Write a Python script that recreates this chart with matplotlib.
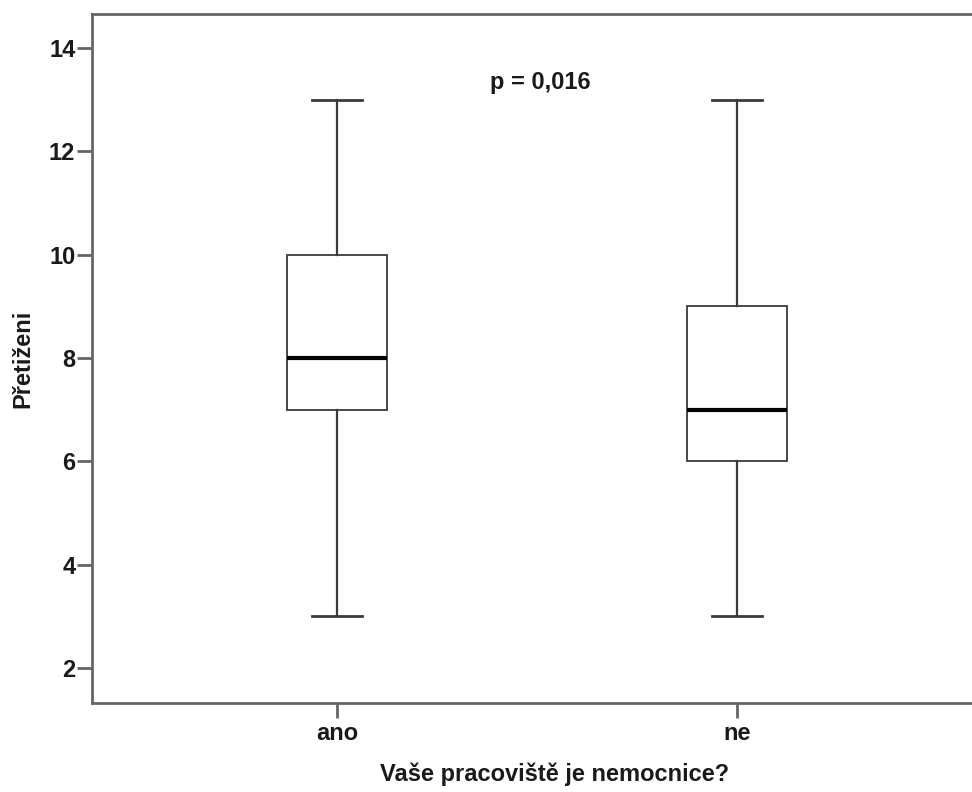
import matplotlib
matplotlib.use("Agg")
import matplotlib.pyplot as plt

categories = ["ano", "ne"]
whislo = [3, 3]
q1 = [7, 6]
med = [8, 7]
q3 = [10, 9]
whishi = [13, 13]
yticks = [2, 4, 6, 8, 10, 12, 14]

plt.rcParams['font.family'] = ['Liberation Sans', 'DejaVu Sans']
plt.rcParams['font.weight'] = 'bold'

W, H = 972, 792
fig = plt.figure(figsize=(W/100, H/100), dpi=100)
left, right, top, bottom = 92, 982, 14, 703
ax = fig.add_axes([left/W, 1 - bottom/H, (right-left)/W, (bottom-top)/H])

stats = []
for i, c in enumerate(categories):
    stats.append(dict(label=c, whislo=whislo[i], q1=q1[i], med=med[i], q3=q3[i], whishi=whishi[i], fliers=[]))

line_col = '#3a3a3a'
ax.bxp(stats, positions=[1, 2], widths=0.25, showfliers=False, patch_artist=True,
       boxprops=dict(facecolor='white', edgecolor=line_col, linewidth=1.3),
       whiskerprops=dict(color=line_col, linewidth=1.6),
       capprops=dict(color=line_col, linewidth=2.0),
       capwidths=0.125,
       medianprops=dict(color='black', linewidth=3))

ax.set_xlim(0.3875, 2.6125)
ax.set_ylim(1.32, 14.66)
ax.set_yticks(yticks)
ax.set_xticks([1, 2])
ax.set_xticklabels(categories)

spine_col = '#666666'
fs = 17
for s in ['left', 'bottom', 'top']:
    ax.spines[s].set_color(spine_col)
    ax.spines[s].set_linewidth(2)
ax.spines['right'].set_visible(False)
ax.tick_params(axis='both', colors=spine_col, width=2, length=10.5, labelsize=fs, labelcolor='#1a1a1a')
ax.tick_params(axis='y', pad=1.5)
ax.tick_params(axis='x', pad=3)
for lbl in ax.get_xticklabels() + ax.get_yticklabels():
    lbl.set_fontweight('bold')

ax.set_xlabel("Vaše pracoviště je nemocnice?", fontsize=fs, fontweight='bold', color='#1a1a1a')
ax.set_ylabel("Přetiženi", fontsize=fs, fontweight='bold', color='#1a1a1a')
ax.xaxis.set_label_coords((555-left)/(right-left), -(762-bottom)/(bottom-top))
ax.yaxis.set_label_coords(-(92-34)/(right-left), 0.5)

ax.text(1.5075, 13.34, "p = 0,016", ha='center', va='center', fontsize=fs, fontweight='bold', color='#1a1a1a')

fig.savefig("out.png", dpi=100)
